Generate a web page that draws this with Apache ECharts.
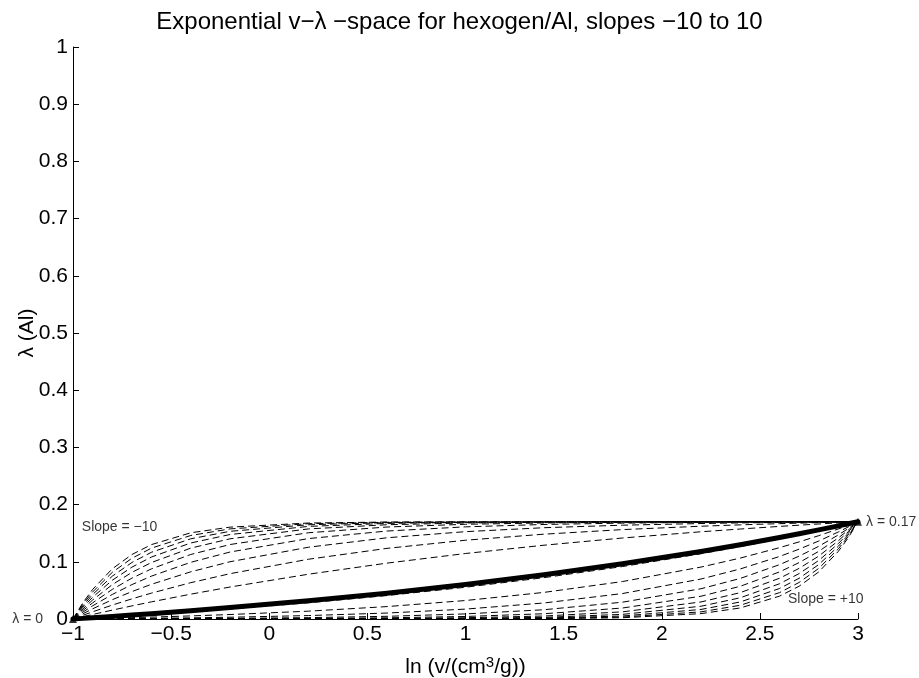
<!DOCTYPE html>
<html>
<head>
<meta charset="utf-8">
<script src="https://cdn.jsdelivr.net/npm/echarts@6/dist/echarts.min.js"></script>
<style>html,body{margin:0;padding:0;background:#fff}#c{width:919px;height:678px}</style>
</head>
<body>
<div id="c"></div>
<script>
// x positions (ln v) where curves are sampled
const xVals = [-1, -0.95, -0.9, -0.8, -0.7, -0.6, -0.4, -0.2, 0.2, 0.6, 1.0, 1.4, 1.8, 2.2, 2.4, 2.6, 2.7, 2.8, 2.9, 2.95, 3];

// negative slopes (upper fan)
const sNeg1  = [0, 0.0040, 0.0079, 0.0155, 0.0229, 0.0300, 0.0434, 0.0559, 0.0783, 0.0977, 0.1145, 0.1290, 0.1416, 0.1525, 0.1573, 0.1619, 0.1640, 0.1661, 0.1681, 0.1690, 0.17];
const sNeg2  = [0, 0.0064, 0.0126, 0.0243, 0.0352, 0.0453, 0.0635, 0.0792, 0.1045, 0.1235, 0.1377, 0.1483, 0.1563, 0.1622, 0.1646, 0.1667, 0.1676, 0.1685, 0.1693, 0.1696, 0.17];
const sNeg3  = [0, 0.0091, 0.0178, 0.0337, 0.0479, 0.0607, 0.0825, 0.1001, 0.1255, 0.1420, 0.1527, 0.1596, 0.1640, 0.1669, 0.1680, 0.1688, 0.1691, 0.1695, 0.1697, 0.1699, 0.17];
const sNeg4  = [0, 0.0119, 0.0230, 0.0429, 0.0601, 0.0750, 0.0991, 0.1171, 0.1406, 0.1538, 0.1611, 0.1653, 0.1676, 0.1689, 0.1693, 0.1696, 0.1697, 0.1698, 0.1699, 0.17, 0.17];
const sNeg5  = [0, 0.0147, 0.0282, 0.0517, 0.0714, 0.0877, 0.1128, 0.1302, 0.1508, 0.1608, 0.1656, 0.1679, 0.1691, 0.1696, 0.1698, 0.1699, 0.1699, 0.17, 0.17, 0.17, 0.17];
const sNeg6  = [0, 0.0175, 0.0332, 0.0600, 0.0815, 0.0988, 0.1239, 0.1402, 0.1575, 0.1648, 0.1678, 0.1691, 0.1696, 0.1698, 0.1699, 0.17, 0.17, 0.17, 0.17, 0.17, 0.17];
const sNeg7  = [0, 0.0203, 0.0381, 0.0677, 0.0906, 0.1084, 0.1329, 0.1477, 0.1619, 0.1671, 0.1689, 0.1696, 0.1699, 0.1699, 0.17, 0.17, 0.17, 0.17, 0.17, 0.17, 0.17];
const sNeg8  = [0, 0.0229, 0.0428, 0.0748, 0.0988, 0.1167, 0.1402, 0.1533, 0.1648, 0.1684, 0.1695, 0.1698, 0.1699, 0.17, 0.17, 0.17, 0.17, 0.17, 0.17, 0.17, 0.17];
const sNeg9  = [0, 0.0256, 0.0473, 0.0815, 0.1061, 0.1239, 0.1460, 0.1575, 0.1666, 0.1691, 0.1698, 0.1699, 0.17, 0.17, 0.17, 0.17, 0.17, 0.17, 0.17, 0.17, 0.17];
const sNeg10 = [0, 0.0282, 0.0517, 0.0877, 0.1127, 0.1301, 0.1507, 0.1606, 0.1678, 0.1695, 0.1699, 0.17, 0.17, 0.17, 0.17, 0.17, 0.17, 0.17, 0.17, 0.17, 0.17];

// positive slopes (lower fan)
const sPos1  = [0, 0.0010, 0.0019, 0.0039, 0.0060, 0.0081, 0.0127, 0.0175, 0.0284, 0.0410, 0.0555, 0.0723, 0.0917, 0.1141, 0.1266, 0.1400, 0.1471, 0.1545, 0.1621, 0.1660, 0.17];
const sPos2  = [0, 0.0004, 0.0007, 0.0015, 0.0024, 0.0033, 0.0054, 0.0078, 0.0137, 0.0217, 0.0323, 0.0465, 0.0655, 0.0908, 0.1065, 0.1247, 0.1348, 0.1457, 0.1574, 0.1636, 0.17];
const sPos3  = [0, 0.0001, 0.0003, 0.0005, 0.0009, 0.0012, 0.0020, 0.0031, 0.0060, 0.0104, 0.0173, 0.0280, 0.0445, 0.0699, 0.0875, 0.1093, 0.1221, 0.1363, 0.1522, 0.1609, 0.17];
const sPos4  = [0, 0, 0.0001, 0.0002, 0.0003, 0.0004, 0.0007, 0.0011, 0.0024, 0.0047, 0.0089, 0.0162, 0.0294, 0.0529, 0.0709, 0.0950, 0.1099, 0.1271, 0.1470, 0.1581, 0.17];
const sPos5  = [0, 0, 0, 0, 0.0001, 0.0001, 0.0002, 0.0004, 0.0009, 0.0021, 0.0044, 0.0092, 0.0192, 0.0398, 0.0572, 0.0823, 0.0986, 0.1183, 0.1418, 0.1553, 0.17];
const sPos6  = [0, 0, 0, 0, 0, 0, 0.0001, 0.0002, 0.0004, 0.0009, 0.0022, 0.0052, 0.0125, 0.0298, 0.0461, 0.0712, 0.0885, 0.1100, 0.1368, 0.1525, 0.17];
const sPos7  = [0, 0, 0, 0, 0, 0, 0, 0.0001, 0.0001, 0.0004, 0.0011, 0.0029, 0.0081, 0.0223, 0.0371, 0.0616, 0.0794, 0.1023, 0.1319, 0.1497, 0.17];
const sPos8  = [0, 0, 0, 0, 0, 0, 0, 0, 0.0001, 0.0002, 0.0005, 0.0016, 0.0052, 0.0167, 0.0298, 0.0533, 0.0712, 0.0952, 0.1272, 0.1471, 0.17];
const sPos9  = [0, 0, 0, 0, 0, 0, 0, 0, 0, 0.0001, 0.0002, 0.0009, 0.0034, 0.0125, 0.0240, 0.0461, 0.0639, 0.0885, 0.1227, 0.1444, 0.17];
const sPos10 = [0, 0, 0, 0, 0, 0, 0, 0, 0, 0, 0.0001, 0.0005, 0.0022, 0.0094, 0.0193, 0.0399, 0.0573, 0.0823, 0.1183, 0.1418, 0.17];

// highlighted (thick) curve
const thickCurve = [0, 0.0011, 0.0022, 0.0045, 0.0069, 0.0093, 0.0145, 0.0199, 0.0318, 0.0451, 0.0602, 0.0773, 0.0965, 0.1181, 0.1299, 0.1425, 0.1491, 0.1558, 0.1628, 0.1664, 0.17];

// end points and annotations
const endX = [-1, 3];
const endY = [0, 0.17];
const annotX = [-1, 3, -0.955, 2.643];
const annotY = [0, 0.17, 0.161, 0.035];
const annotText = ['λ = 0', 'λ = 0.17', 'Slope = −10', 'Slope = +10'];

const FONT = 'Helvetica, "Liberation Sans", Arial, sans-serif';
const pairs = ys => xVals.map((x, i) => [x, ys[i]]);
const dashed = [sNeg1, sNeg2, sNeg3, sNeg4, sNeg5, sNeg6, sNeg7, sNeg8, sNeg9, sNeg10,
                sPos1, sPos2, sPos3, sPos4, sPos5, sPos6, sPos7, sPos8, sPos9, sPos10];

const series = dashed.map(ys => ({
  type: 'line', data: pairs(ys), showSymbol: false, smooth: false,
  lineStyle: { color: '#000', width: 1, type: [7, 4] }, silent: true, animation: false
}));
series.push({
  type: 'line', data: pairs(thickCurve), showSymbol: false, smooth: false,
  lineStyle: { color: '#000', width: 5, join: 'round', cap: 'round' }, silent: true, animation: false, z: 5
});
series.push({
  type: 'scatter', data: endX.map((x, i) => [x, endY[i]]), symbol: 'triangle', symbolSize: 8,
  itemStyle: { color: '#000' }, animation: false, z: 6
});
const annPos = ['left', 'right', 'right', 'right'];
const annDist = [30, 8, 0, 0];
series.push({
  type: 'scatter', symbolSize: 0, animation: false, z: 7,
  data: annotX.map((x, i) => ({
    value: [x, annotY[i]],
    label: { show: true, formatter: annotText[i], position: annPos[i], distance: annDist[i],
      color: '#000', fontSize: 14, fontFamily: FONT }
  }))
});

const minus = v => String(v).replace('-', '−');
const chart = echarts.init(document.getElementById('c'), null, { renderer: 'canvas' });
chart.setOption({
  animation: false,
  backgroundColor: '#fff',
  title: {
    text: 'Exponential v−λ −space for hexogen/Al, slopes −10 to 10',
    left: 'center', top: 5,
    textStyle: { fontSize: 24, fontWeight: 'normal', color: '#000', fontFamily: FONT }
  },
  grid: { left: 73, right: 61, top: 47, bottom: 59, containLabel: false, outerBoundsMode: 'none' },
  xAxis: {
    type: 'value', min: -1, max: 3, interval: 0.5,
    axisLine: { onZero: false, lineStyle: { color: '#000', width: 1 } },
    axisTick: { inside: true, length: 6, lineStyle: { color: '#000' } },
    axisLabel: { color: '#000', fontSize: 21, fontFamily: FONT, margin: 5, formatter: minus },
    splitLine: { show: false },
    name: 'ln (v/(cm{sup|3}/g))',
    nameLocation: 'middle', nameGap: 36, nameMoveOverlap: false,
    nameTextStyle: { color: '#000', fontSize: 21, fontFamily: FONT,
      rich: { sup: { fontSize: 15, verticalAlign: 'top', padding: [0, 0, 10, 0], fontFamily: FONT, color: '#000' } } }
  },
  yAxis: {
    type: 'value', min: 0, max: 1, interval: 0.1,
    axisLine: { show: true, onZero: false, lineStyle: { color: '#000', width: 1 } },
    axisTick: { show: true, inside: true, length: 6, lineStyle: { color: '#000' } },
    axisLabel: { color: '#000', fontSize: 21, fontFamily: FONT, margin: 5 },
    splitLine: { show: false },
    name: 'λ (Al)', nameLocation: 'middle', nameGap: 35, nameRotate: 90, nameMoveOverlap: false,
    nameTextStyle: { color: '#000', fontSize: 21, fontFamily: FONT }
  },
  series: series
});
</script>
</body>
</html>
